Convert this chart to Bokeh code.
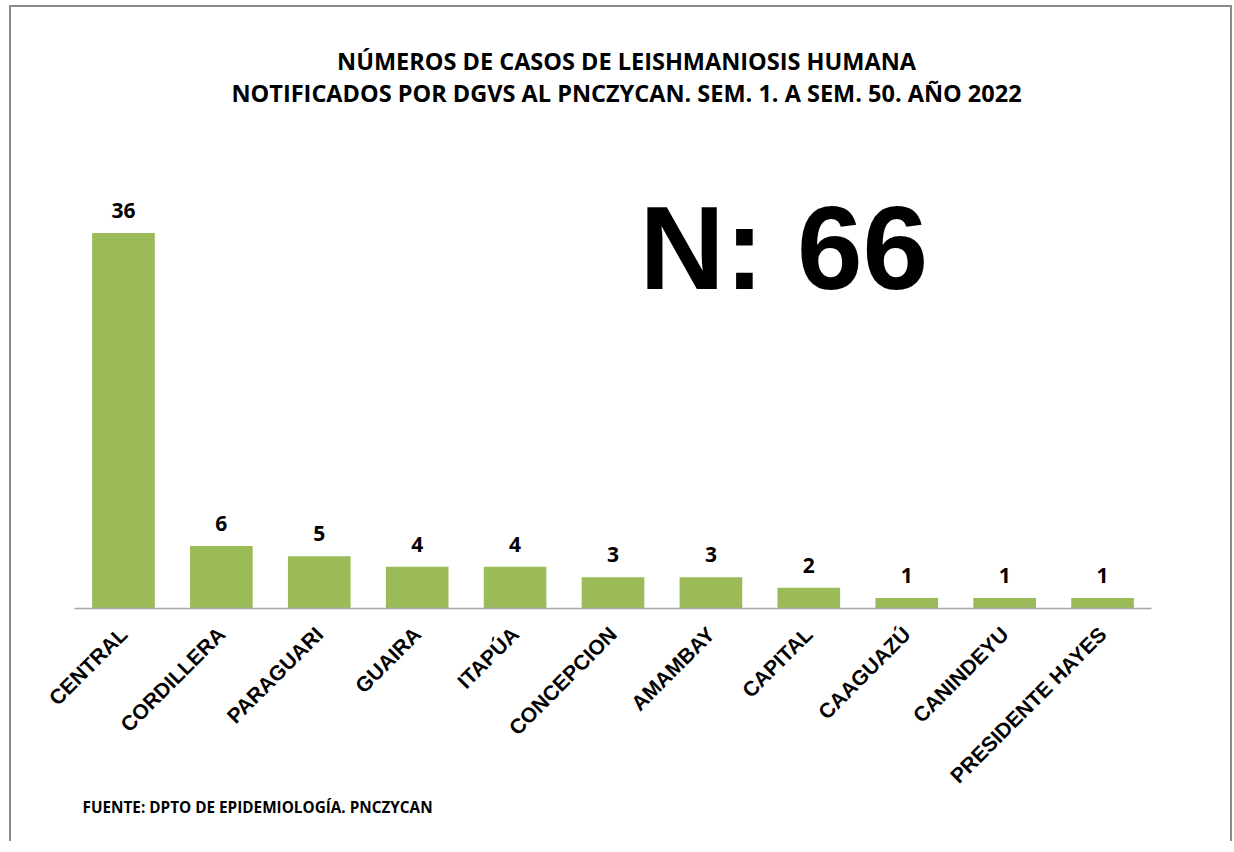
import math
from bokeh.plotting import figure
from bokeh.models import ColumnDataSource, FactorRange, Range1d, Label, LabelSet, Title
from bokeh.core.properties import value
from bokeh.embed import file_html
from bokeh.resources import INLINE

categories = ["CENTRAL", "CORDILLERA", "PARAGUARI", "GUAIRA", "ITAPÚA", "CONCEPCION",
              "AMAMBAY", "CAPITAL", "CAAGUAZÚ", "CANINDEYU", "PRESIDENTE HAYES"]
values = [36, 6, 5, 4, 4, 3, 3, 2, 1, 1, 1]
title_lines = ["NÚMEROS DE CASOS DE LEISHMANIOSIS HUMANA",
               "NOTIFICADOS POR DGVS AL PNCZYCAN. SEM. 1. A SEM. 50. AÑO 2022"]
total_text = "N: 66"
source_text = "FUENTE: DPTO DE EPIDEMIOLOGÍA. PNCZYCAN"

src = ColumnDataSource(dict(cat=categories, val=values, lab=[str(v) for v in values]))

W, H = 1223, 836
FL, FR, FB = 63, 83, 235          # frame borders (canvas px)
CW, CH = W - 4, H - 2             # canvas size inside css border
FRAME_W = CW - FL - FR
FRAME_B = CH - FB                  # canvas y of frame bottom
Y_END = 57.6
PPU = FRAME_B / Y_END              # px per data unit


def fx(cx):
    """canvas x px -> synthetic categorical coordinate"""
    return (cx - FL) / FRAME_W * len(categories)


def fy(cy):
    """canvas y px -> data y"""
    return (FRAME_B - cy) / PPU


p = figure(width=W, height=H, output_backend="svg", toolbar_location=None, title=None,
           x_range=FactorRange(factors=categories, range_padding=0),
           y_range=Range1d(0, Y_END),
           min_border_left=FL, min_border_right=FR, min_border_top=0, min_border_bottom=FB)
p.styles = {"margin-left": "9px", "margin-top": "5px",
            "border-top": "2px solid #8a8a8a", "border-left": "2px solid #8a8a8a",
            "border-right": "2px solid #8a8a8a"}

p.vbar(x="cat", top="val", width=0.64, source=src, fill_color="#9BBB59", line_color=None)

p.add_layout(LabelSet(x="cat", y="val", text="lab", source=src, y_offset=15,
                      text_align="center", text_baseline="alphabetic",
                      text_font=value("Open Sans"), text_font_style="bold",
                      text_font_size="21px", text_color="#000000"))

p.yaxis.visible = False
p.xgrid.visible = False
p.ygrid.visible = False
p.outline_line_color = None
p.xaxis.axis_line_color = "#A6A6A6"
p.xaxis.axis_line_width = 1.5
p.xaxis.major_tick_line_color = None
p.xaxis.minor_tick_line_color = None
p.xaxis.major_label_orientation = math.pi / 4
p.xaxis.major_label_text_font = "Liberation Sans"
p.xaxis.major_label_text_font_style = "bold"
p.xaxis.major_label_text_font_size = "21px"
p.xaxis.major_label_text_color = "#000000"
p.xaxis.major_label_standoff = 16

TS = 23.5
p.add_layout(Label(x=fx(613), y=fy(62 - 0.37 * TS), text=title_lines[0],
                   text_align="center", text_baseline="alphabetic", text_font="Open Sans",
                   text_font_style="bold", text_font_size=f"{TS}px", text_color="#000000"))
p.add_layout(Label(x=fx(613), y=fy(94 - 0.37 * TS), text=title_lines[1],
                   text_align="center", text_baseline="alphabetic", text_font="Open Sans",
                   text_font_style="bold", text_font_size=f"{TS}px", text_color="#000000"))
p.add_layout(Label(x=fx(626), y=fy(240), text=total_text,
                   text_align="left", text_baseline="alphabetic", text_font="Liberation Sans",
                   text_font_style="bold", text_font_size="118px", text_color="#000000"))

p.add_layout(Title(text=source_text, align="left", offset=8, standoff=-7, text_font="Open Sans",
                   text_font_style="bold", text_font_size="15.3px", text_color="#000000"),
             "below")

open("out.html", "w").write(file_html(p, INLINE))
